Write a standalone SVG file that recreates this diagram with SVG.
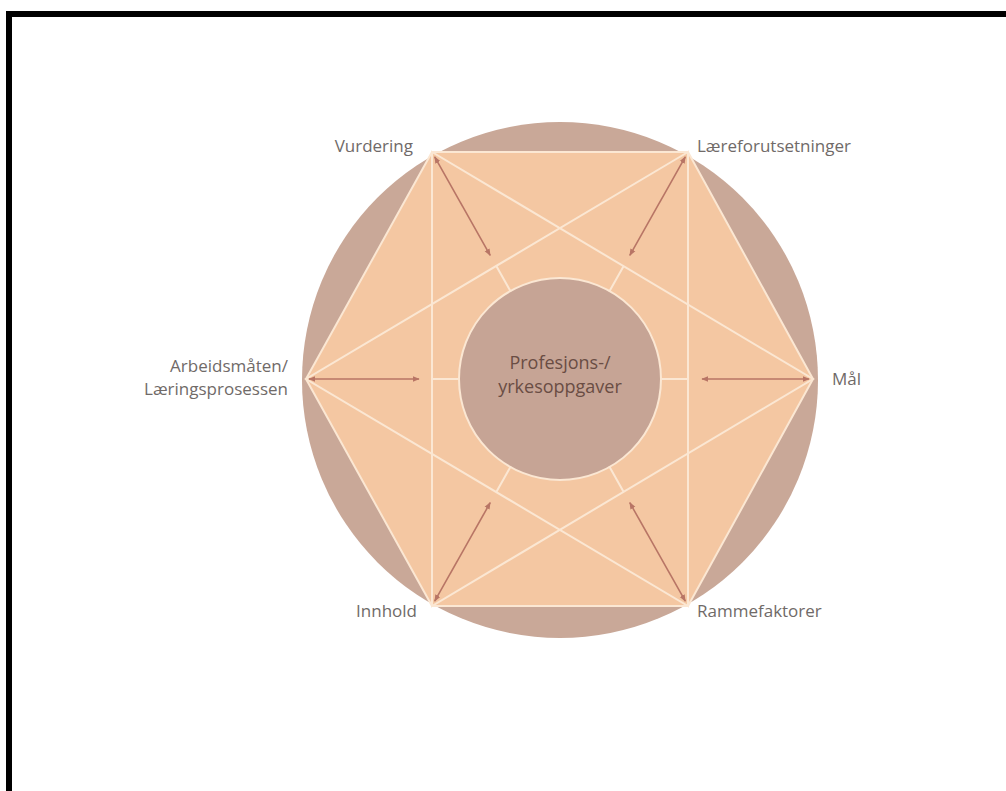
<svg xmlns="http://www.w3.org/2000/svg" width="1006" height="791" viewBox="0 0 1006 791">
  <defs>
    <style>
      .lbl { font-family: "Open Sans", "Liberation Sans", sans-serif; font-size: 17px; fill: #706a68; }
      .ctr { font-family: "Open Sans", "Liberation Sans", sans-serif; font-size: 18px; fill: #6a4d44; }
      .wl { stroke: #fbe7d3; stroke-width: 2; fill: none; stroke-linecap: round; }
      .arr { stroke: #b87565; stroke-width: 1.6; fill: none; marker-start: url(#ah); marker-end: url(#ah); }
    </style>
    <marker id="ah" viewBox="0 0 10 10" refX="9" refY="5" markerWidth="7" markerHeight="7" orient="auto-start-reverse" markerUnits="userSpaceOnUse">
      <path d="M0,1 L10,5 L0,9 z" fill="#b87565"/>
    </marker>
  </defs>
  <rect x="0" y="0" width="1006" height="791" fill="#ffffff"/>
  <path d="M9,791 V14 H1006" stroke="#000" stroke-width="6" fill="none"/>

  <g id="background">
    <circle cx="560" cy="380" r="258" fill="#c9a898"/>
    <polygon points="432,152 688,152 813,379 688,606 432,606 306,379" fill="#f4c7a2"/>
  </g>

  <g id="lines">
    <polygon class="wl" points="432,152 688,152 813,379 688,606 432,606 306,379"/>
    <polygon class="wl" points="432,152 813,379 432,606"/>
    <polygon class="wl" points="688,152 306,379 688,606"/>
  </g>

  <g id="center">
    <circle cx="560" cy="379" r="101" fill="#c6a495" stroke="#fbe7d3" stroke-width="2"/>
    <text class="ctr" x="560" y="369" text-anchor="middle">Profesjons-/</text>
    <text class="ctr" x="560" y="393" text-anchor="middle">yrkesoppgaver</text>
  </g>

  <g id="connectors">
    <line class="wl" x1="510.4" y1="291" x2="496.6" y2="266.6"/>
    <line class="wl" x1="609.6" y1="291" x2="623.4" y2="266.6"/>
    <line class="wl" x1="661" y1="379" x2="688" y2="379"/>
    <line class="wl" x1="459" y1="379" x2="432" y2="379"/>
    <line class="wl" x1="510.4" y1="467" x2="496.6" y2="491.4"/>
    <line class="wl" x1="609.6" y1="467" x2="623.4" y2="491.4"/>
    <line class="arr" x1="434.7" y1="156.9" x2="490.2" y2="255.3"/>
    <line class="arr" x1="685.3" y1="156.9" x2="629.8" y2="255.3"/>
    <line class="arr" x1="809" y1="379" x2="702" y2="379"/>
    <line class="arr" x1="309" y1="379" x2="419" y2="379"/>
    <line class="arr" x1="434.7" y1="601.1" x2="490.2" y2="502.7"/>
    <line class="arr" x1="685.3" y1="601.1" x2="629.8" y2="502.7"/>
  </g>

  <g id="node-vurdering"><text class="lbl" x="413" y="152" text-anchor="end">Vurdering</text></g>
  <g id="node-laereforutsetninger"><text class="lbl" x="697" y="152">Læreforutsetninger</text></g>
  <g id="node-arbeidsmaaten"><text class="lbl" x="288" y="372" text-anchor="end">Arbeidsmåten/</text><text class="lbl" x="288" y="395" text-anchor="end">Læringsprosessen</text></g>
  <g id="node-maal"><text class="lbl" x="832" y="385">Mål</text></g>
  <g id="node-innhold"><text class="lbl" x="417" y="617" text-anchor="end">Innhold</text></g>
  <g id="node-rammefaktorer"><text class="lbl" x="697" y="617">Rammefaktorer</text></g>
</svg>
